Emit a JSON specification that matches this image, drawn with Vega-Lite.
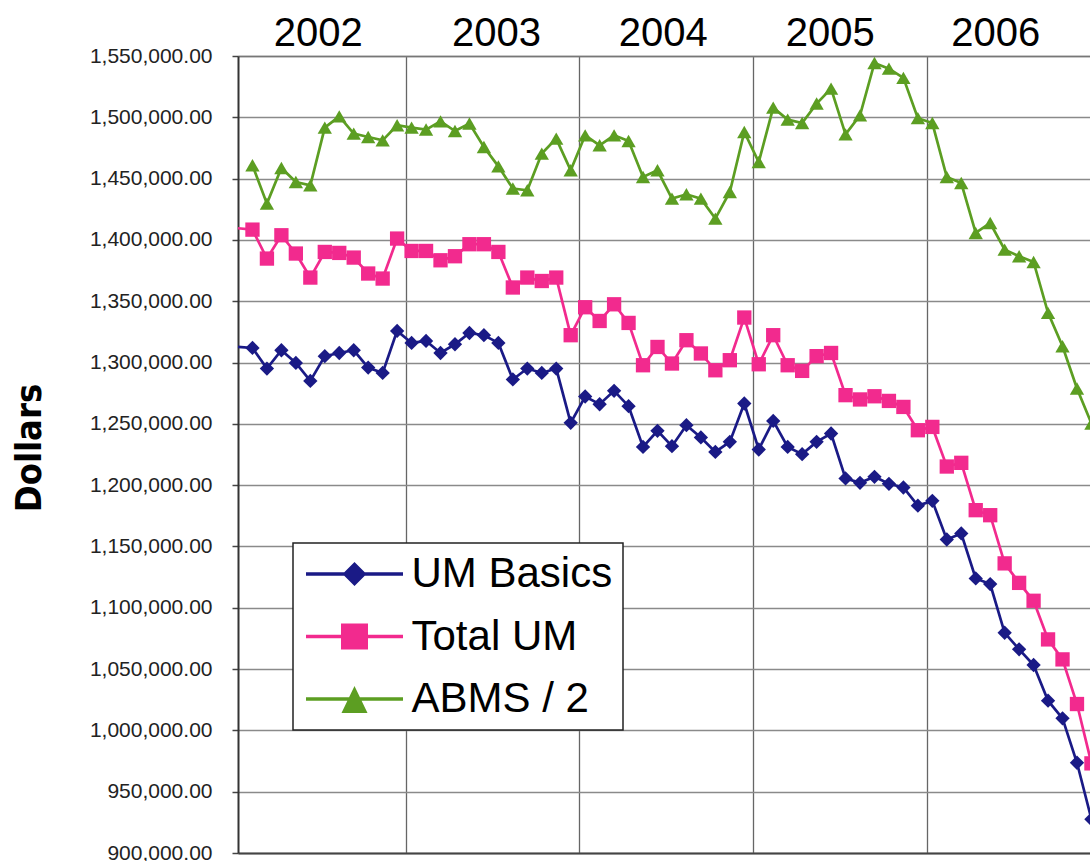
{
  "$schema": "https://vega.github.io/schema/vega-lite/v6.json",
  "width": 852,
  "height": 797,
  "autosize": {"type": "none"},
  "padding": {"left": 238, "top": 56, "right": 0, "bottom": 8},
  "background": "white",
  "config": {"font": "Liberation Sans", "view": {"stroke": null}},
  "data": {
    "values": [
      {"i": 0, "UM Basics": 1312700, "Total UM": 1409500, "ABMS / 2": null},
      {"i": 1, "UM Basics": 1311900, "Total UM": 1408400, "ABMS / 2": 1460900},
      {"i": 2, "UM Basics": 1295100, "Total UM": 1384800, "ABMS / 2": 1429600},
      {"i": 3, "UM Basics": 1310000, "Total UM": 1403800, "ABMS / 2": 1458700},
      {"i": 4, "UM Basics": 1299700, "Total UM": 1388900, "ABMS / 2": 1447200},
      {"i": 5, "UM Basics": 1285000, "Total UM": 1369300, "ABMS / 2": 1444500},
      {"i": 6, "UM Basics": 1305200, "Total UM": 1390200, "ABMS / 2": 1491600},
      {"i": 7, "UM Basics": 1307800, "Total UM": 1389400, "ABMS / 2": 1500800},
      {"i": 8, "UM Basics": 1310000, "Total UM": 1385600, "ABMS / 2": 1486700},
      {"i": 9, "UM Basics": 1295900, "Total UM": 1372600, "ABMS / 2": 1483900},
      {"i": 10, "UM Basics": 1291500, "Total UM": 1368500, "ABMS / 2": 1481200},
      {"i": 11, "UM Basics": 1325800, "Total UM": 1401100, "ABMS / 2": 1493500},
      {"i": 12, "UM Basics": 1316000, "Total UM": 1391000, "ABMS / 2": 1491600},
      {"i": 13, "UM Basics": 1317600, "Total UM": 1391000, "ABMS / 2": 1490000},
      {"i": 14, "UM Basics": 1307800, "Total UM": 1383400, "ABMS / 2": 1496700},
      {"i": 15, "UM Basics": 1314900, "Total UM": 1386700, "ABMS / 2": 1488800},
      {"i": 16, "UM Basics": 1324100, "Total UM": 1396500, "ABMS / 2": 1494900},
      {"i": 17, "UM Basics": 1322300, "Total UM": 1396500, "ABMS / 2": 1475800},
      {"i": 18, "UM Basics": 1316000, "Total UM": 1390200, "ABMS / 2": 1460000},
      {"i": 19, "UM Basics": 1286200, "Total UM": 1361200, "ABMS / 2": 1441900},
      {"i": 20, "UM Basics": 1295100, "Total UM": 1369300, "ABMS / 2": 1440500},
      {"i": 21, "UM Basics": 1291500, "Total UM": 1366500, "ABMS / 2": 1470400},
      {"i": 22, "UM Basics": 1295100, "Total UM": 1369300, "ABMS / 2": 1482600},
      {"i": 23, "UM Basics": 1250800, "Total UM": 1322300, "ABMS / 2": 1456800},
      {"i": 24, "UM Basics": 1272300, "Total UM": 1345100, "ABMS / 2": 1485300},
      {"i": 25, "UM Basics": 1266000, "Total UM": 1333900, "ABMS / 2": 1477200},
      {"i": 26, "UM Basics": 1276900, "Total UM": 1347500, "ABMS / 2": 1485300},
      {"i": 27, "UM Basics": 1264400, "Total UM": 1332300, "ABMS / 2": 1480700},
      {"i": 28, "UM Basics": 1231200, "Total UM": 1297800, "ABMS / 2": 1451300},
      {"i": 29, "UM Basics": 1244300, "Total UM": 1312700, "ABMS / 2": 1456800},
      {"i": 30, "UM Basics": 1231800, "Total UM": 1299200, "ABMS / 2": 1433700},
      {"i": 31, "UM Basics": 1248900, "Total UM": 1318200, "ABMS / 2": 1437200},
      {"i": 32, "UM Basics": 1238900, "Total UM": 1307400, "ABMS / 2": 1433700},
      {"i": 33, "UM Basics": 1227100, "Total UM": 1293700, "ABMS / 2": 1417400},
      {"i": 34, "UM Basics": 1235300, "Total UM": 1301900, "ABMS / 2": 1439100},
      {"i": 35, "UM Basics": 1266600, "Total UM": 1336700, "ABMS / 2": 1488000},
      {"i": 36, "UM Basics": 1229100, "Total UM": 1298600, "ABMS / 2": 1463500},
      {"i": 37, "UM Basics": 1252400, "Total UM": 1322300, "ABMS / 2": 1507900},
      {"i": 38, "UM Basics": 1231200, "Total UM": 1297800, "ABMS / 2": 1498100},
      {"i": 39, "UM Basics": 1225300, "Total UM": 1293200, "ABMS / 2": 1495300},
      {"i": 40, "UM Basics": 1235300, "Total UM": 1305200, "ABMS / 2": 1511200},
      {"i": 41, "UM Basics": 1242100, "Total UM": 1307800, "ABMS / 2": 1523400},
      {"i": 42, "UM Basics": 1205500, "Total UM": 1273400, "ABMS / 2": 1486100},
      {"i": 43, "UM Basics": 1201900, "Total UM": 1269900, "ABMS / 2": 1501600},
      {"i": 44, "UM Basics": 1206800, "Total UM": 1272500, "ABMS / 2": 1544300},
      {"i": 45, "UM Basics": 1201100, "Total UM": 1268700, "ABMS / 2": 1539700},
      {"i": 46, "UM Basics": 1198100, "Total UM": 1263800, "ABMS / 2": 1532200},
      {"i": 47, "UM Basics": 1183300, "Total UM": 1244800, "ABMS / 2": 1499300},
      {"i": 48, "UM Basics": 1187200, "Total UM": 1247500, "ABMS / 2": 1495300},
      {"i": 49, "UM Basics": 1155700, "Total UM": 1215200, "ABMS / 2": 1451300},
      {"i": 50, "UM Basics": 1160600, "Total UM": 1218200, "ABMS / 2": 1446400},
      {"i": 51, "UM Basics": 1123900, "Total UM": 1179600, "ABMS / 2": 1405700},
      {"i": 52, "UM Basics": 1119300, "Total UM": 1175500, "ABMS / 2": 1413800},
      {"i": 53, "UM Basics": 1079600, "Total UM": 1136200, "ABMS / 2": 1392100},
      {"i": 54, "UM Basics": 1066100, "Total UM": 1120300, "ABMS / 2": 1386700},
      {"i": 55, "UM Basics": 1053300, "Total UM": 1105700, "ABMS / 2": 1382000},
      {"i": 56, "UM Basics": 1024200, "Total UM": 1074200, "ABMS / 2": 1340500},
      {"i": 57, "UM Basics": 1009800, "Total UM": 1057900, "ABMS / 2": 1313300},
      {"i": 58, "UM Basics": 973600, "Total UM": 1021500, "ABMS / 2": 1278800},
      {"i": 59, "UM Basics": 927500, "Total UM": 973100, "ABMS / 2": 1250300}
    ]
  },
  "transform": [
    {"fold": ["UM Basics", "Total UM", "ABMS / 2"], "as": ["series", "v"]},
    {"filter": "datum.v != null"}
  ],
  "encoding": {
    "y": {
      "field": "v",
      "type": "quantitative",
      "scale": {"domain": [900000, 1550000], "nice": false, "zero": false},
      "axis": {
        "orient": "left",
        "values": [900000, 950000, 1000000, 1050000, 1100000, 1150000, 1200000, 1250000, 1300000, 1350000, 1400000, 1450000, 1500000, 1550000],
        "format": ",.2f",
        "labelFont": "Liberation Sans",
        "labelFontSize": 21,
        "labelColor": "#222222",
        "labelPadding": 20,
        "tickSize": 6,
        "tickColor": "#444444",
        "tickWidth": 1.5,
        "domainColor": "#333333",
        "domainWidth": 2,
        "grid": true,
        "gridColor": "#8a8a8a",
        "gridWidth": 1.3,
        "title": "Dollars",
        "titleFont": "DejaVu Sans Condensed, Liberation Sans",
        "titleFontWeight": "bold",
        "titleFontSize": 36,
        "titleColor": "black",
        "titleAngle": -90,
        "titleAlign": "center",
        "titleBaseline": "alphabetic",
        "titleX": -198,
        "titleY": 391.5
      }
    },
    "color": {
      "field": "series",
      "type": "nominal",
      "scale": {"domain": ["UM Basics", "Total UM", "ABMS / 2"], "range": ["#1a1a86", "#f22a8e", "#5c9e22"]},
      "legend": {
        "orient": "none",
        "legendX": 55,
        "legendY": 487,
        "title": null,
        "padding": 10,
        "symbolSize": 625,
        "symbolStrokeWidth": 0,
        "symbolOffset": 30.5,
        "labelOffset": 36,
        "labelFont": "Liberation Sans",
        "labelFontSize": 42,
        "labelColor": "black",
        "labelLimit": 500,
        "rowPadding": 20.5,
        "strokeColor": "#222222",
        "fillColor": "white",
        "encode": {
          "legend": {"update": {"strokeWidth": {"value": 1.5}}},
          "symbols": {
            "update": {
              "shape": {"signal": "datum.value === 'UM Basics' ? 'M-3.88,-0.14L3.88,-0.14L3.88,0.14L-3.88,0.14ZM0,-0.96L0.96,0L0,0.96L-0.96,0Z' : datum.value === 'Total UM' ? 'M-3.88,-0.14L3.88,-0.14L3.88,0.14L-3.88,0.14ZM-1.08,-1.04L1.08,-1.04L1.08,1.04L-1.08,1.04Z' : 'M-3.88,-0.14L3.88,-0.14L3.88,0.14L-3.88,0.14ZM0,-1.04L1.04,1.12L-1.04,1.12Z'"},
              "opacity": {"value": 1}
            }
          }
        }
      }
    }
  },
  "layer": [
    {
      "mark": {"type": "line", "strokeWidth": 2.7},
      "encoding": {
        "x": {
          "field": "i",
          "type": "quantitative",
          "scale": {"domain": [0, 58.9], "nice": false, "zero": false},
          "axis": {
            "orient": "bottom",
            "values": [11.59, 23.58, 35.6, 47.61],
            "labels": false,
            "ticks": false,
            "title": null,
            "grid": true,
            "gridColor": "#666666",
            "gridWidth": 1.3,
            "domain": true,
            "domainColor": "#444444",
            "domainWidth": 2
          }
        }
      }
    },
    {
      "transform": [{"filter": "datum.i >= 1"}],
      "mark": {"type": "point", "filled": true, "opacity": 1, "size": 205},
      "encoding": {
        "x": {
          "field": "i",
          "type": "quantitative",
          "axis": {
            "orient": "top",
            "values": [5.52, 17.84, 29.37, 40.9, 52.35],
            "labelExpr": "datum.value < 10 ? '2002' : datum.value < 20 ? '2003' : datum.value < 35 ? '2004' : datum.value < 45 ? '2005' : '2006'",
            "labelFont": "Liberation Sans",
            "labelFontSize": 40,
            "labelColor": "black",
            "labelBaseline": "alphabetic",
            "labelPadding": 11,
            "labelOverlap": false,
            "labelFlush": false,
            "labelBound": false,
            "ticks": false,
            "tickSize": 0,
            "grid": false,
            "title": null,
            "domain": true,
            "domainColor": "#777777",
            "domainWidth": 1.5
          }
        },
        "shape": {
          "condition": [
            {"test": "datum.series === 'UM Basics'", "value": "diamond"},
            {"test": "datum.series === 'Total UM'", "value": "square"}
          ],
          "value": "triangle-up"
        }
      }
    }
  ],
  "resolve": {"axis": {"x": "independent"}}
}
